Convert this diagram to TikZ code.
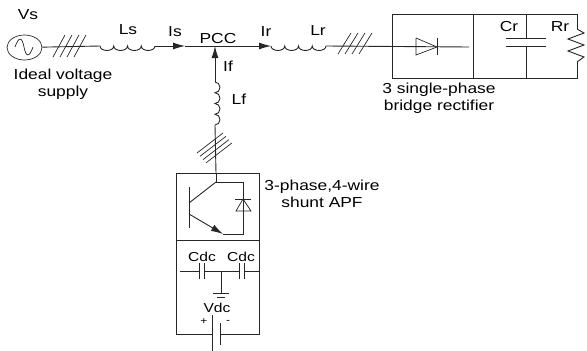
\documentclass[tikz,border=0pt]{standalone}
\usepackage{fontspec}
\setmainfont[FakeStretch=1.2]{Liberation Sans}
\usetikzlibrary{arrows.meta}
\usetikzlibrary{shapes.geometric}
\pgfdeclarelayer{edgelayer}
\pgfdeclarelayer{nodelayer}
\pgfsetlayers{edgelayer,nodelayer,main}
\tikzstyle{none}=[inner sep=0pt]
\tikzstyle{label}=[inner sep=0pt,font=\fontsize{14.5}{17}\selectfont,align=center]
\tikzstyle{small label}=[inner sep=0pt,font=\fontsize{13}{15}\selectfont]
\tikzstyle{sign}=[inner sep=0pt,font=\fontsize{10}{12}\selectfont]
\tikzstyle{wire}=[line width=0.9pt,black!85]
\tikzstyle{thin wire}=[line width=0.7pt,black!85]
\tikzstyle{current}=[line width=0.9pt,black!85,-{Latex[length=12pt,width=7pt]}]
\begin{document}
\begin{tikzpicture}[x=1pt,y=-1pt]
	\useasboundingbox (0,0) rectangle (587,351);
	\begin{pgfonlayer}{nodelayer}
		% source side
		\node [style=none] (1) at (100, 46) {};
		\node [style=none] (2) at (155, 46) {};
		\node [style=none] (3) at (185, 46) {};
		\node [style=none] (4) at (215, 46) {};
		\node [style=none] (5) at (271, 46) {};
		\node [style=none] (6) at (326, 46) {};
		\node [style=none] (7) at (392, 47) {};
		\node [draw,ellipse,thin wire,minimum width=35pt,minimum height=25pt,inner sep=0pt] (8) at (24.5, 47.5) {};
		\node [style=none] (90) at (15, 47) {};
		\node [style=none] (91) at (24, 47) {};
		\node [style=none] (92) at (33, 47) {};
		% filter branch
		\node [style=none] (9) at (215, 82) {};
		\node [style=none] (10) at (215, 125) {};
		\node [style=none] (11) at (216, 182) {};
		% rectifier
		\node [style=none] (12) at (392, 14) {};
		\node [style=none] (13) at (577, 14) {};
		\node [style=none] (14) at (577, 78) {};
		\node [style=none] (15) at (392, 78) {};
		\node [style=none] (16) at (473, 14) {};
		\node [style=none] (17) at (473, 78) {};
		\node [style=none] (18) at (526, 14) {};
		\node [style=none] (19) at (526, 38) {};
		\node [style=none] (20) at (526, 46) {};
		\node [style=none] (21) at (526, 78) {};
		\node [style=none] (22) at (577, 29) {};
		\node [style=none] (23) at (577, 62) {};
		\node [style=none] (24) at (506, 38) {};
		\node [style=none] (25) at (546, 38) {};
		\node [style=none] (26) at (506, 46) {};
		\node [style=none] (27) at (546, 46) {};
		\node [style=none] (93) at (469, 47) {};
		\node [style=none] (94) at (416, 38) {};
		\node [style=none] (95) at (416, 55) {};
		\node [style=none] (96) at (437, 47) {};
		\node [style=none] (97) at (437, 38) {};
		\node [style=none] (98) at (437, 55) {};
		% shunt box
		\node [style=none] (28) at (176, 173) {};
		\node [style=none] (29) at (259, 173) {};
		\node [style=none] (30) at (259, 334) {};
		\node [style=none] (31) at (176, 334) {};
		\node [style=none] (32) at (176, 240) {};
		\node [style=none] (33) at (259, 240) {};
		\node [style=none] (34) at (216, 173) {};
		% transistor
		\node [style=none] (35) at (189, 187) {};
		\node [style=none] (36) at (189, 228) {};
		\node [style=none] (37) at (189, 203) {};
		\node [style=none] (38) at (189, 214) {};
		\node [style=none] (39) at (223, 234) {};
		\node [style=none] (40) at (243, 234) {};
		\node [style=none] (41) at (243, 182) {};
		\node [style=none] (42) at (243, 199) {};
		\node [style=none] (43) at (236, 211) {};
		\node [style=none] (44) at (251, 211) {};
		\node [style=none] (45) at (235, 199) {};
		\node [style=none] (46) at (251, 199) {};
		% dc link
		\node [style=none] (47) at (180, 271) {};
		\node [style=none] (48) at (199, 271) {};
		\node [style=none] (49) at (204, 271) {};
		\node [style=none] (50) at (239, 271) {};
		\node [style=none] (51) at (244, 271) {};
		\node [style=none] (52) at (259, 271) {};
		\node [style=none] (53) at (221, 271) {};
		\node [style=none] (54) at (221, 293) {};
		\node [style=none] (55) at (212, 334) {};
		\node [style=none] (56) at (220, 334) {};
		\node [style=none] (57) at (212, 315) {};
		\node [style=none] (58) at (212, 351) {};
		\node [style=none] (59) at (220, 323) {};
		\node [style=none] (80) at (220, 345) {};
		\node [style=none] (81) at (199, 263) {};
		\node [style=none] (82) at (199, 279) {};
		\node [style=none] (83) at (204, 263) {};
		\node [style=none] (84) at (204, 279) {};
		\node [style=none] (85) at (239, 263) {};
		\node [style=none] (86) at (239, 279) {};
		\node [style=none] (87) at (244, 263) {};
		\node [style=none] (88) at (244, 279) {};
		% labels
		\node [style=label] (60) at (28, 15) {Vs};
		\node [style=label] (61) at (63, 84.5) {Ideal voltage\\supply};
		\node [style=label] (62) at (128, 30) {Ls};
		\node [style=label] (63) at (175, 32) {Is};
		\node [style=label] (64) at (218, 39) {PCC};
		\node [style=label] (65) at (266, 32) {Ir};
		\node [style=label] (66) at (318, 31) {Lr};
		\node [style=label] (67) at (509, 27) {Cr};
		\node [style=label] (68) at (560, 27) {Rr};
		\node [style=label] (69) at (439, 98.5) {3 single-phase\\bridge rectifier};
		\node [style=label] (70) at (228, 66) {If};
		\node [style=label] (71) at (239, 99) {Lf};
		\node [style=label] (72) at (322, 194) {3-phase,4-wire\\shunt APF};
		\node [style=small label] (73) at (202, 257) {Cdc};
		\node [style=small label] (74) at (241, 257) {Cdc};
		\node [style=small label] (75) at (217, 308) {Vdc};
		\node [style=sign] (76) at (204, 322) {+};
		\node [style=sign] (77) at (228, 322) {-};
	\end{pgfonlayer}
	\begin{pgfonlayer}{edgelayer}
		\draw [style=thin wire] (90.center) .. controls (19,36) and (22,37) .. (91.center) .. controls (26,57) and (29,58) .. (92.center);
		\draw [style=wire] (8) to (1.center);
		\draw [style=wire] (1.center) arc [start angle=180,end angle=0,x radius=6.875,y radius=4.5] arc [start angle=180,end angle=0,x radius=6.875,y radius=4.5] arc [start angle=180,end angle=0,x radius=6.875,y radius=4.5] arc [start angle=180,end angle=0,x radius=6.875,y radius=4.5];
		\draw [style=current] (2.center) to (3.center);
		\draw [style=wire] (3.center) to (4.center);
		\draw [style=current] (4.center) to (5.center);
		\draw [style=wire] (5.center) arc [start angle=180,end angle=0,x radius=6.875,y radius=4.5] arc [start angle=180,end angle=0,x radius=6.875,y radius=4.5] arc [start angle=180,end angle=0,x radius=6.875,y radius=4.5] arc [start angle=180,end angle=0,x radius=6.875,y radius=4.5];
		\draw [style=wire] (6.center) to (93.center);
		% hash marks
		\foreach \x in {53,60,67,74} {
			\draw [style=thin wire] (\x,57) to (\x+12,35);
		}
		\foreach \x in {338,345,352,359} {
			\draw [style=thin wire] (\x,54) to (\x+13,33);
		}
		\foreach \k in {0,1,2,3} {
			\draw [style=thin wire] (197+3*\k,153+3.3*\k) to (223+3*\k,133+3.3*\k);
		}
		% filter branch
		\draw [style=current] (9.center) to (4.center);
		\draw [style=wire] (9.center) arc [start angle=-90,end angle=90,x radius=5,y radius=5.375] arc [start angle=-90,end angle=90,x radius=5,y radius=5.375] arc [start angle=-90,end angle=90,x radius=5,y radius=5.375] arc [start angle=-90,end angle=90,x radius=5,y radius=5.375];
		\draw [style=wire] (10.center) to (34.center);
		\draw [style=wire] (34.center) to (11.center);
		% rectifier
		\draw [style=wire] (12.center) to (13.center) to (22.center);
		\draw [style=wire] (23.center) to (14.center) to (15.center) to (12.center);
		\draw [style=wire] (16.center) to (17.center);
		\draw [style=wire] (18.center) to (19.center);
		\draw [style=wire] (20.center) to (21.center);
		\draw [style=wire] (24.center) to (25.center);
		\draw [style=wire] (26.center) to (27.center);
		\draw [style=wire] (22.center) to (584,33) to (568,39) to (584,45) to (568,51) to (584,57) to (23.center);
		\draw [style=thin wire] (94.center) to (96.center) to (95.center) to (94.center);
		\draw [style=wire] (97.center) to (98.center);
		% shunt box
		\draw [style=wire] (28.center) to (29.center) to (30.center) to (56.center);
		\draw [style=wire] (55.center) to (31.center) to (28.center);
		\draw [style=wire] (32.center) to (33.center);
		\draw [style=wire] (35.center) to (36.center);
		\draw [style=wire] (37.center) to (11.center);
		\draw [style=wire,-{Latex[length=12pt,width=7pt]}] (38.center) to (39.center);
		\draw [style=wire] (39.center) to (40.center) to (41.center) to (11.center);
		\draw [style=thin wire] (42.center) to (43.center) to (44.center) to (42.center);
		\draw [style=thin wire] (45.center) to (46.center);
		% dc link
		\draw [style=wire] (47.center) to (48.center);
		\draw [style=wire] (49.center) to (50.center);
		\draw [style=wire] (51.center) to (52.center);
		\draw [style=wire] (81.center) to (82.center);
		\draw [style=wire] (83.center) to (84.center);
		\draw [style=wire] (85.center) to (86.center);
		\draw [style=wire] (87.center) to (88.center);
		\draw [style=wire] (53.center) to (54.center);
		\draw [style=wire] (213,293) to (229,293);
		\draw [style=wire] (217,297) to (225,297);
		\draw [style=wire] (57.center) to (58.center);
		\draw [style=wire] (59.center) to (80.center);
	\end{pgfonlayer}
\end{tikzpicture}
\end{document}
